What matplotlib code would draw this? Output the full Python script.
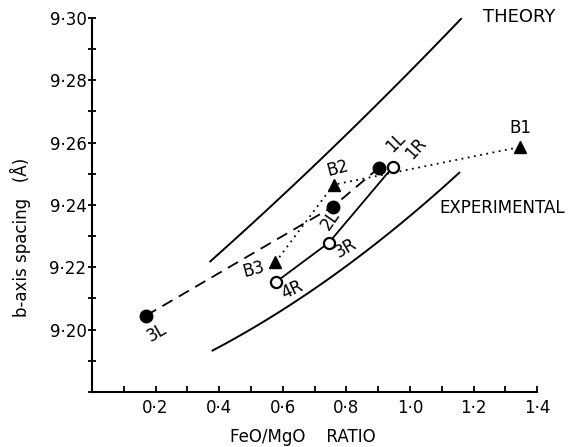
import numpy as np
import matplotlib.pyplot as plt
from matplotlib.ticker import MultipleLocator, FuncFormatter

# reference curves
theory_x = [0.372, 0.625, 0.751, 0.877, 0.994, 1.161]
theory_y = [9.2222, 9.2448, 9.2576, 9.2704, 9.2832, 9.2992]
exper_x = [0.379, 0.571, 0.751, 0.899, 1.025, 1.155]
exper_y = [9.1936, 9.2042, 9.2160, 9.2288, 9.2394, 9.2497]

# L series (filled circles, dashed)
L_names = ["3L", "2L", "1L"]
L_x = [0.17, 0.757, 0.902]
L_y = [9.2045, 9.2394, 9.2519]

# R series (open circles, solid)
R_names = ["4R", "3R", "1R"]
R_x = [0.58, 0.745, 0.946]
R_y = [9.2154, 9.2279, 9.2522]

# B series (triangles, dotted); passes just under 1R
B_names = ["B3", "B2", "B1"]
B_x = [0.577, 0.76, 1.347]
B_y = [9.2216, 9.2465, 9.2586]
Bpath_x = [0.577, 0.76, 0.945, 1.347]
Bpath_y = [9.2216, 9.2465, 9.2503, 9.2586]

fig = plt.figure(figsize=(5.82, 4.47), dpi=100)
ax = fig.add_axes([0.158, 0.123, 0.765, 0.837])


def smooth(xs, ys):
    c = np.polyfit(xs, ys, 2)
    xx = np.linspace(xs[0], xs[-1], 100)
    return xx, np.polyval(c, xx)


ax.plot(*smooth(theory_x, theory_y), color="black", lw=1.4)
ax.plot(*smooth(exper_x, exper_y), color="black", lw=1.4)

ax.plot(L_x, L_y, color="black", lw=1.3, ls=(0, (6.5, 4)))
ax.plot(R_x, R_y, color="black", lw=1.3)
ax.plot(Bpath_x, Bpath_y, color="black", lw=1.3, ls=(0, (1, 2.5)))

ax.plot(L_x, L_y, "o", ms=9, color="black", ls="none")
ax.plot(R_x, R_y, "o", ms=8, mfc="white", mec="black", mew=1.6, ls="none")
ax.plot(B_x, B_y, "^", ms=8.5, color="black", ls="none")

fs = 12
kw = dict(fontsize=fs, ha="center", va="center", rotation_mode="anchor")
ax.text(1.230, 9.3003, "THEORY", fontsize=13, va="center")
ax.text(1.091, 9.2391, "EXPERIMENTAL", fontsize=fs, va="center")
ax.text(1.347, 9.2647, "B1", **kw)
ax.text(0.773, 9.2519, "B2", rotation=15, **kw)
ax.text(0.508, 9.2192, "B3", rotation=15, **kw)
ax.text(0.205, 9.1990, "3L", rotation=30, **kw)
ax.text(0.751, 9.2353, "2L", rotation=55, **kw)
ax.text(0.956, 9.2599, "1L", rotation=45, **kw)
ax.text(1.019, 9.2583, "1R", rotation=48, **kw)
ax.text(0.798, 9.2263, "3R", rotation=30, **kw)
ax.text(0.631, 9.2128, "4R", rotation=25, **kw)

ax.set_xlim(0, 1.4)
ax.set_ylim(9.18, 9.30)
ax.spines["top"].set_visible(False)
ax.spines["right"].set_visible(False)
ax.spines["left"].set_linewidth(1.5)
ax.spines["bottom"].set_linewidth(1.5)

ax.yaxis.set_minor_locator(MultipleLocator(0.01))
ax.set_yticks([9.20, 9.22, 9.24, 9.26, 9.28, 9.30])
ax.yaxis.set_major_formatter(FuncFormatter(lambda v, p: ("%.2f" % v).replace(".", "\u00b7")))
ax.xaxis.set_minor_locator(MultipleLocator(0.1))
ax.set_xticks([0.2, 0.4, 0.6, 0.8, 1.0, 1.2, 1.4])
ax.xaxis.set_major_formatter(FuncFormatter(lambda v, p: ("%.1f" % v).replace(".", "\u00b7")))
ax.tick_params(axis="y", which="both", direction="inout", length=6, width=1.3, labelsize=fs, pad=1)
ax.tick_params(axis="x", which="both", direction="in", length=4, width=1.3, labelsize=fs, pad=5)

fig.text(0.036, 0.47, "b-axis spacing   (\u00c5)", rotation=90, fontsize=fs,
         ha="center", va="center")
fig.text(0.52, 0.022, "FeO/MgO    RATIO", fontsize=fs, ha="center", va="center")

fig.savefig("out.png", dpi=100)
